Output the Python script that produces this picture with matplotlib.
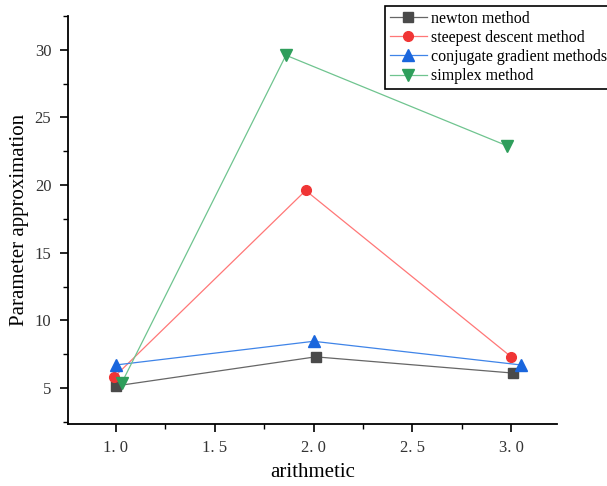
import matplotlib.pyplot as plt
from matplotlib.ticker import MultipleLocator, FixedLocator, FixedFormatter

plt.rcParams['font.family'] = ['Liberation Serif', 'DejaVu Serif']

# data
newton_x = [1.0, 2.01, 3.01]
newton_y = [5.15, 7.3, 6.1]
steepest_x = [0.99, 1.96, 3.0]
steepest_y = [5.8, 19.6, 7.3]
conjugate_x = [1.0, 2.0, 3.05]
conjugate_y = [6.7, 8.45, 6.7]
simplex_x = [1.03, 1.86, 2.98]
simplex_y = [5.4, 29.6, 22.9]

xticks = [1.0, 1.5, 2.0, 2.5, 3.0]
xtick_labels = ['1. 0', '1. 5', '2. 0', '2. 5', '3. 0']
yticks = [5, 10, 15, 20, 25, 30]

fig = plt.figure(figsize=(6.07, 4.86), dpi=100)
ax = fig.add_axes([0.112, 0.128, 0.806, 0.839])

ax.plot(newton_x, newton_y, color='#666666', lw=0.9, marker='s', ms=7,
        mfc='#4a4a4a', mec='#4a4a4a', label='newton method')
ax.plot(steepest_x, steepest_y, color='#f77', lw=0.9, marker='o', ms=7,
        mfc='#f03535', mec='#f03535', label='steepest descent method')
ax.plot(conjugate_x, conjugate_y, color='#3f84e8', lw=0.9, marker='^', ms=8,
        mfc='#1a66dd', mec='#1a66dd', label='conjugate gradient methods')
ax.plot(simplex_x, simplex_y, color='#6fc48f', lw=0.9, marker='v', ms=8,
        mfc='#2e9e5b', mec='#2e9e5b', label='simplex method')

ax.set_xlim(0.757, 3.233)
ax.set_ylim(2.35, 32.5)
ax.xaxis.set_major_locator(FixedLocator(xticks))
ax.xaxis.set_major_formatter(FixedFormatter(xtick_labels))
ax.xaxis.set_minor_locator(MultipleLocator(0.25))
ax.yaxis.set_major_locator(FixedLocator(yticks))
ax.yaxis.set_minor_locator(MultipleLocator(2.5))

for side in ['top', 'right']:
    ax.spines[side].set_visible(False)
for side in ['left', 'bottom']:
    ax.spines[side].set_linewidth(1.3)
ax.tick_params(which='major', direction='out', length=6, width=1.2,
               labelsize=12, labelcolor='#333333', pad=6)
ax.tick_params(which='minor', direction='out', length=3.5, width=1.0)

ax.set_xlabel('arithmetic', fontsize=15, labelpad=5)
ax.set_ylabel('Parameter approximation', fontsize=15)
ax.yaxis.set_label_coords(-0.08, 0.5)

leg = ax.legend(loc='upper left', bbox_to_anchor=(0.648, 1.025), fontsize=11.5,
                frameon=True, fancybox=False, edgecolor='black', framealpha=1,
                handlelength=2.3, handletextpad=0.3, labelspacing=0.2,
                borderpad=0.3, borderaxespad=0)
leg.get_frame().set_linewidth(1.2)

fig.savefig('out.png', dpi=100)
